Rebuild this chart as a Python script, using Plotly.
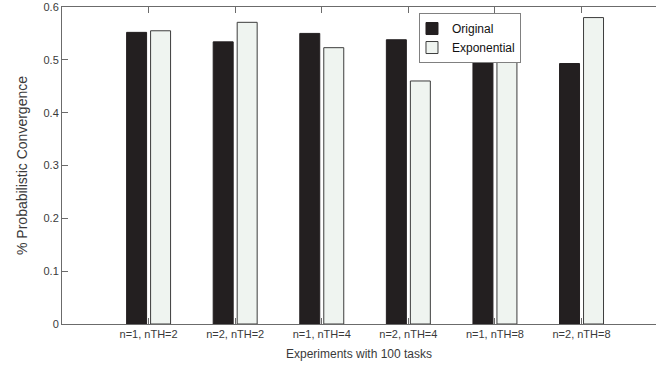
import plotly.graph_objects as go

categories = ["n=1, nTH=2", "n=2, nTH=2", "n=1, nTH=4", "n=2, nTH=4", "n=1, nTH=8", "n=2, nTH=8"]
original = [0.552, 0.534, 0.550, 0.538, 0.513, 0.493]
exponential = [0.555, 0.571, 0.523, 0.460, 0.516, 0.580]
y_ticks = [0, 0.1, 0.2, 0.3, 0.4, 0.5, 0.6]
y_tick_labels = ["0", "0.1", "0.2", "0.3", "0.4", "0.5", "0.6"]

font = "Liberation Sans, Arial, sans-serif"
axis_col = "#6b6b6b"
text_col = "#3a3a3a"

fig = go.Figure()
fig.add_trace(go.Bar(x=categories, y=original, name="Original",
                     marker=dict(color="#231f20", line=dict(color="#231f20", width=1))))
fig.add_trace(go.Bar(x=categories, y=exponential, name="Exponential",
                     marker=dict(color="#eff4f0", line=dict(color="#3c3c3c", width=1))))

fig.update_layout(
    width=656, height=365,
    margin=dict(l=62, r=0, t=7, b=41),
    paper_bgcolor="white", plot_bgcolor="white",
    barmode="group", bargap=0.446, bargroupgap=0.167,
    font=dict(family=font, size=11, color=text_col),
    legend=dict(x=0.601, y=0.981, xanchor="left", yanchor="top",
                bordercolor="#808080", borderwidth=1, bgcolor="white",
                font=dict(size=12, color="#111111"), tracegroupgap=0,
                itemwidth=30, indentation=-8),
    showlegend=True,
)
fig.update_xaxes(
    type="category", categoryorder="array", categoryarray=categories,
    range=[-1, 5.86],
    showline=True, linecolor=axis_col, linewidth=1, mirror="ticks",
    ticks="inside", ticklen=6, tickcolor=axis_col,
    showgrid=False, zeroline=False,
    tickfont=dict(size=11, color=text_col),
    title=dict(text="Experiments with 100 tasks", font=dict(size=12, color=text_col), standoff=10),
)
fig.update_yaxes(
    range=[0, 0.6], tickvals=y_ticks, ticktext=y_tick_labels,
    showline=True, linecolor=axis_col, linewidth=1, mirror=False,
    ticks="inside", ticklen=6, tickcolor=axis_col,
    showgrid=False, zeroline=False,
    tickfont=dict(size=11, color=text_col),
    title=dict(text="% Probabilistic Convergence", font=dict(size=14, color=text_col), standoff=12),
)

fig.write_html("out.html", config={"displayModeBar": False},
               post_script="document.body.style.margin='0';")
